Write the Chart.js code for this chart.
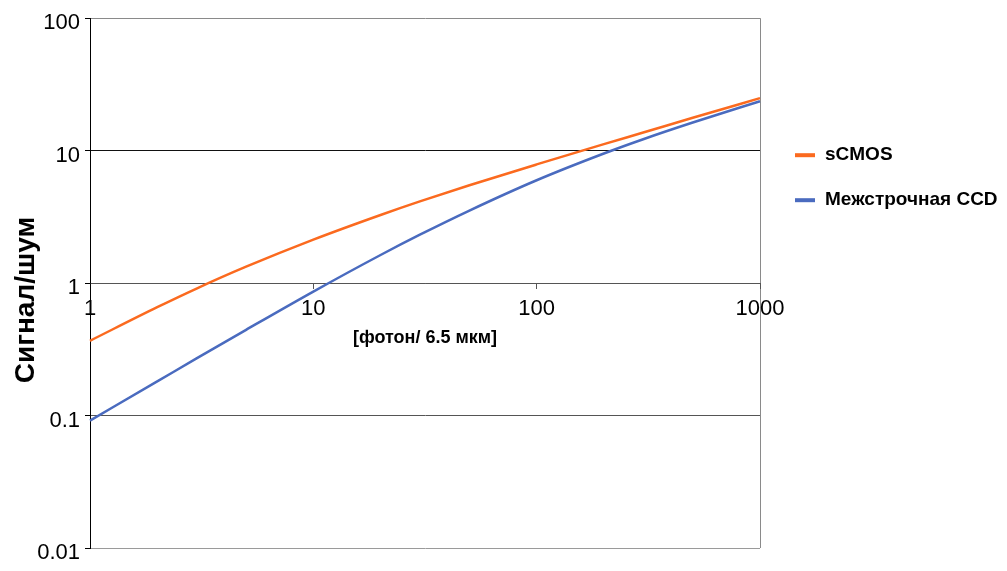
<!DOCTYPE html>
<html>
<head>
<meta charset="utf-8">
<title>Сигнал/шум</title>
<script src="https://cdn.jsdelivr.net/npm/chart.js@4/dist/chart.umd.min.js"></script>
<style>
  html, body { margin: 0; padding: 0; background: #fff; }
  #wrap { width: 1007px; height: 571px; position: relative; }
</style>
</head>
<body>
<div id="wrap"><canvas id="snrChart"></canvas></div>
<script>
// photons per 6.5 um pixel
const photons = [1, 2, 3, 5, 10, 20, 30, 50, 100, 200, 300, 500, 1000];
// SNR
const snrSCMOS = [0.367, 0.658, 0.91, 1.33, 2.13, 3.27, 4.14, 5.48, 7.87, 11.2, 13.7, 17.7, 24.9];
const snrCCD = [0.0916, 0.181, 0.27, 0.444, 0.863, 1.63, 2.32, 3.53, 5.98, 9.52, 12.2, 16.3, 23.6];

const seriesNames = ['sCMOS', 'Межстрочная CCD'];
const seriesColors = ['#fb6a1f', '#4a6bbf'];

const xTicks = [1, 10, 100, 1000];
const yTicks = [0.01, 0.1, 1, 10, 100];

const xTitle = '[фотон/ 6.5 мкм]';
const yTitle = 'Сигнал/шум';

Chart.defaults.font.family = "'Liberation Sans', Arial, sans-serif";
Chart.defaults.color = '#000';

function toPoints(values) {
    return photons.map((p, i) => ({ x: p, y: values[i] }));
}

// grid colours per y value, like the original sheet
function yGridColor(v) {
    if (v === 100) return '#8a8a8a';
    if (v === 10) return '#111';
    if (v === 1) return '#555';
    if (v === 0.1) return '#555';
    return '#9a9a9a';
}

const sideLegend = {
    id: 'sideLegend',
    afterDraw(chart) {
        const ctx = chart.ctx;
        const area = chart.chartArea;
        ctx.save();
        chart.data.datasets.forEach(function(ds, i) {
            const y = area.top + 137 + i * 45;
            ctx.strokeStyle = ds.borderColor;
            ctx.lineWidth = 4;
            ctx.beginPath();
            ctx.moveTo(area.right + 35, y);
            ctx.lineTo(area.right + 55, y);
            ctx.stroke();
            ctx.fillStyle = '#000';
            ctx.font = "bold 19px 'Liberation Sans', Arial, sans-serif";
            ctx.textAlign = 'left';
            ctx.textBaseline = 'middle';
            ctx.fillText(ds.label, area.right + 65, y);
        });
        // vertical axis title
        ctx.translate(26, 300);
        ctx.rotate(-Math.PI / 2);
        ctx.font = "bold 28px 'Liberation Sans', Arial, sans-serif";
        ctx.textAlign = 'center';
        ctx.textBaseline = 'middle';
        ctx.fillStyle = '#000';
        ctx.fillText(yTitle, 0, 0);
        ctx.restore();
    }
};

const ctx = document.getElementById('snrChart').getContext('2d');
new Chart(ctx, {
    type: 'line',
    data: {
        datasets: [{
            label: seriesNames[0],
            data: toPoints(snrSCMOS),
            borderColor: seriesColors[0],
            borderWidth: 2.5,
            pointRadius: 0,
            cubicInterpolationMode: 'monotone',
            clip: 4
        }, {
            label: seriesNames[1],
            data: toPoints(snrCCD),
            borderColor: seriesColors[1],
            borderWidth: 2.5,
            pointRadius: 0,
            cubicInterpolationMode: 'monotone',
            clip: 4
        }]
    },
    options: {
        responsive: true,
        maintainAspectRatio: false,
        animation: false,
        layout: {
            padding: { left: 0, top: 17, right: 247, bottom: 23 }
        },
        scales: {
            x: {
                type: 'logarithmic',
                position: { y: 1 },
                min: 1,
                max: 1000,
                afterBuildTicks: function(axis) {
                    axis.ticks = xTicks.map(v => ({ value: v }));
                },
                afterFit: function(axis) {
                    axis.height = 66;
                },
                border: { display: true, color: '#555', width: 1 },
                grid: {
                    color: c => (c.tick && c.tick.value === 1000) ? '#8a8a8a' : 'rgba(0,0,0,0)',
                    tickColor: '#555',
                    tickLength: 5,
                    lineWidth: 1
                },
                ticks: {
                    font: { size: 22 },
                    color: '#000',
                    padding: 8,
                    maxRotation: 0,
                    autoSkip: false,
                    callback: v => String(v)
                },
                title: {
                    display: true,
                    text: xTitle,
                    font: { size: 18, weight: 'bold' },
                    color: '#000',
                    padding: 0
                }
            },
            y: {
                type: 'logarithmic',
                position: 'left',
                min: 0.01,
                max: 100,
                afterBuildTicks: function(axis) {
                    axis.ticks = yTicks.map(v => ({ value: v }));
                },
                afterFit: function(axis) {
                    axis.width = 90;
                },
                border: { display: true, color: '#000', width: 1 },
                grid: {
                    color: c => c.tick ? yGridColor(c.tick.value) : '#999',
                    tickColor: '#000',
                    tickLength: 5,
                    lineWidth: 1
                },
                ticks: {
                    font: { size: 22 },
                    color: '#000',
                    padding: 5,
                    labelOffset: 5,
                    autoSkip: false,
                    callback: v => String(v)
                }
            }
        },
        plugins: {
            legend: { display: false },
            tooltip: { enabled: false }
        }
    },
    plugins: [sideLegend]
});
</script>
</body>
</html>
